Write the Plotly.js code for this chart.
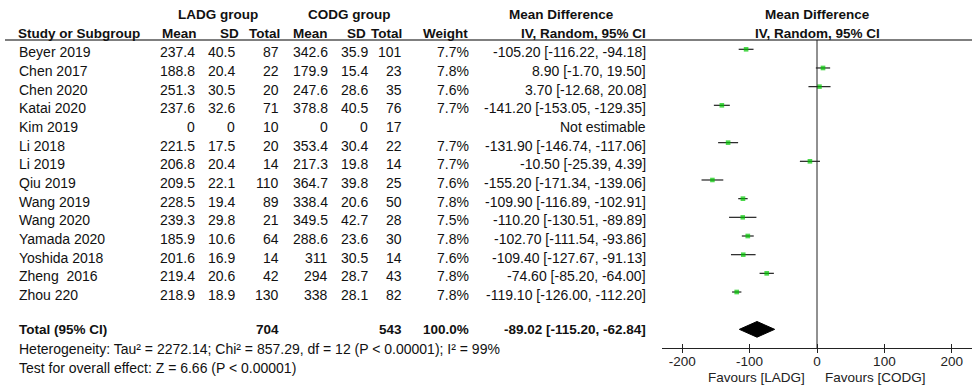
<!DOCTYPE html>
<html>
<head>
<meta charset="utf-8">
<script src="https://cdn.plot.ly/plotly-3.0.1.min.js"></script>
<style>html,body{margin:0;padding:0;background:#fff;}#chart{width:972px;height:387px;}</style>
</head>
<body>
<div id="chart"></div>
<script>
// ---------- data ----------
var studies   = ["Beyer 2019","Chen 2017","Chen 2020","Katai 2020","Kim 2019","Li 2018","Li 2019","Qiu 2019","Wang 2019","Wang 2020","Yamada 2020","Yoshida 2018","Zheng  2016","Zhou 220"];
var ladgMean  = [237.4,188.8,251.3,237.6,0,221.5,206.8,209.5,228.5,239.3,185.9,201.6,219.4,218.9];
var ladgSD    = [40.5,20.4,30.5,32.6,0,17.5,20.4,22.1,19.4,29.8,10.6,16.9,20.6,18.9];
var ladgN     = [87,22,20,71,10,20,14,110,89,21,64,14,42,130];
var codgMean  = [342.6,179.9,247.6,378.8,0,353.4,217.3,364.7,338.4,349.5,288.6,311,294,338];
var codgSD    = [35.9,15.4,28.6,40.5,0,30.4,19.8,39.8,20.6,42.7,23.6,30.5,28.7,28.1];
var codgN     = [101,23,35,76,17,22,14,25,50,28,30,14,43,82];
var weight    = [7.7,7.8,7.6,7.7,null,7.7,7.7,7.6,7.8,7.5,7.8,7.6,7.8,7.8];
var md        = [-105.20,8.90,3.70,-141.20,null,-131.90,-10.50,-155.20,-109.90,-110.20,-102.70,-109.40,-74.60,-119.10];
var ciLow     = [-116.22,-1.70,-12.68,-153.05,null,-146.74,-25.39,-171.34,-116.89,-130.51,-111.54,-127.67,-85.20,-126.00];
var ciHigh    = [-94.18,19.50,20.08,-129.35,null,-117.06,4.39,-139.06,-102.91,-89.89,-93.86,-91.13,-64.00,-112.20];
var totalLADG = 704, totalCODG = 543, totalWeight = 100.0;
var totalMD = -89.02, totalLow = -115.20, totalHigh = -62.84;
var heterogeneityText = "Heterogeneity: Tau² = 2272.14; Chi² = 857.29, df = 12 (P &lt; 0.00001); I² = 99%";
var overallText = "Test for overall effect: Z = 6.66 (P &lt; 0.00001)";
var tickVals = [-200,-100,0,100,200];
var tickText = ["-200","-100","0","100","200"];
var favoursLeft = "Favours [LADG]", favoursRight = "Favours [CODG]";

// ---------- layout helpers ----------
var W = 972, H = 387;
var FONT = "Liberation Sans, Arial, sans-serif";
var FS = 14, FSB = 13.5, TXT = "#111";
function px(x){ return x / W; }
function py(y){ return 1 - y / H; }
var rows = studies.map(function(_, i){ return i; });
var totalRow = studies.length + 1;

var ann = [];
function txtRow(text, x, anchor, row, bold, shift){
  ann.push({text: bold ? "<b>" + text + "</b>" : text, xref: "paper", yref: "y", x: px(x), y: row,
    xanchor: anchor, yanchor: "middle", yshift: shift, showarrow: false,
    font: {family: FONT, size: bold ? FSB : FS, color: TXT}});
}
function txtPx(text, x, anchor, y, bold){
  ann.push({text: bold ? "<b>" + text + "</b>" : text, xref: "paper", yref: "paper", x: px(x), y: py(y),
    xanchor: anchor, yanchor: "middle", showarrow: false,
    font: {family: FONT, size: bold ? FSB : FS, color: TXT}});
}

// headers
txtPx("LADG group", 218, "center", 15, true);
txtPx("CODG group", 349, "center", 15, true);
txtPx("Mean Difference", 561, "center", 15, true);
txtPx("Mean Difference", 817, "center", 15, true);
txtPx("Study or Subgroup", 16, "left", 33, true);
txtPx("Mean", 199, "right", 33, true);
txtPx("SD", 241, "right", 33, true);
txtPx("Total", 282, "right", 33, true);
txtPx("Mean", 330, "right", 33, true);
txtPx("SD", 368, "right", 33, true);
txtPx("Total", 404, "right", 33, true);
txtPx("Weight", 470, "right", 33, true);
txtPx("IV, Random, 95% CI", 648, "right", 33, true);
txtPx("IV, Random, 95% CI", 817, "center", 33, true);

// study rows
var SH = -3;
rows.forEach(function(r, i){
  txtRow(studies[i], 16.5, "left", r, false, SH);
  txtRow(String(ladgMean[i]), 197, "right", r, false, SH);
  txtRow(String(ladgSD[i]), 237, "right", r, false, SH);
  txtRow(String(ladgN[i]), 281, "right", r, false, SH);
  txtRow(String(codgMean[i]), 330, "right", r, false, SH);
  txtRow(String(codgSD[i]), 370, "right", r, false, SH);
  txtRow(String(codgN[i]), 404, "right", r, false, SH);
  if (weight[i] !== null) txtRow(weight[i].toFixed(1) + "%", 471, "right", r, false, SH);
  var s = md[i] === null ? "Not estimable" :
    md[i].toFixed(2) + " [" + ciLow[i].toFixed(2) + ", " + ciHigh[i].toFixed(2) + "]";
  txtRow(s, 648, "right", r, false, SH);
});
// total row
txtRow("Total (95% CI)", 16.5, "left", totalRow, true, -0.5);
txtRow(String(totalLADG), 281, "right", totalRow, true, -0.5);
txtRow(String(totalCODG), 404, "right", totalRow, true, -0.5);
txtRow(totalWeight.toFixed(1) + "%", 471, "right", totalRow, true, -0.5);
txtRow(totalMD.toFixed(2) + " [" + totalLow.toFixed(2) + ", " + totalHigh.toFixed(2) + "]", 648, "right", totalRow, true, -0.5);
// footers
txtPx(heterogeneityText, 16.5, "left", 349, false);
txtPx(overallText, 16.5, "left", 368, false);
// favours labels
ann.push({text: favoursLeft, xref: "x", yref: "paper", x: 0, xshift: -10, y: py(377.5), xanchor: "right", yanchor: "middle", showarrow: false, font: {family: FONT, size: 13.5, color: "#222"}});
ann.push({text: favoursRight, xref: "x", yref: "paper", x: 0, xshift: 6, y: py(377.5), xanchor: "left", yanchor: "middle", showarrow: false, font: {family: FONT, size: 13.5, color: "#222"}});

// ---------- traces ----------
var ciX = [], ciY = [];
rows.forEach(function(r, i){
  if (md[i] === null) return;
  ciX.push(ciLow[i], ciHigh[i], null);
  ciY.push(r, r, null);
});
var ciTrace = {type: "scatter", mode: "lines", x: ciX, y: ciY, xaxis: "x", yaxis: "y",
  line: {color: "#222", width: 1.2}, hoverinfo: "skip"};
var ptTrace = {type: "scatter", mode: "markers", x: md, y: rows, xaxis: "x", yaxis: "y",
  marker: {symbol: "square", size: weight.map(function(w){ return w === null ? 0 : w * 0.6; }), color: "#00c800", line: {width: 0}}};
var DH = 0.42;
var diamond = {type: "scatter", mode: "lines", fill: "toself", xaxis: "x2", yaxis: "y",
  x: [totalLow, totalMD, totalHigh, totalMD, totalLow],
  y: [totalRow, totalRow - DH, totalRow, totalRow + DH, totalRow],
  fillcolor: "#000", line: {color: "#000", width: 1}, hoverinfo: "skip"};

var axisPos = py(348.3);
var layout = {
  width: W, height: H, margin: {l: 0, r: 0, t: 0, b: 0},
  paper_bgcolor: "#fff", plot_bgcolor: "rgba(0,0,0,0)", showlegend: false,
  xaxis: {domain: [px(662), 1], range: [-230, 230], anchor: "free", position: axisPos,
    showline: true, linecolor: "#222", linewidth: 1, ticks: "inside", ticklen: 4, tickwidth: 1, tickcolor: "#222",
    tickvals: tickVals, ticktext: tickText, tickfont: {family: FONT, size: 13.5, color: "#222"},
    showgrid: false, zeroline: false, fixedrange: true},
  xaxis2: {overlaying: "x", matches: "x", anchor: "free", position: axisPos, range: [-230, 230],
    ticks: "outside", ticklen: 4, tickwidth: 1, tickcolor: "#222", tickvals: tickVals,
    showticklabels: false, showline: false, showgrid: false, zeroline: false},
  yaxis: {domain: [0, 1], range: [(H - 49.3) / 18.67, -49.3 / 18.67], visible: false,
    showgrid: false, zeroline: false, fixedrange: true},
  shapes: [
    {type: "line", xref: "paper", yref: "paper", x0: px(5), x1: 1, y0: py(40), y1: py(40), line: {color: "#555", width: 1.5}},
    {type: "line", xref: "x", yref: "paper", x0: 0, x1: 0, y0: axisPos, y1: py(40), line: {color: "#222", width: 1}}
  ],
  annotations: ann
};
Plotly.newPlot("chart", [ciTrace, ptTrace, diamond], layout, {staticPlot: true, displayModeBar: false});
</script>
</body>
</html>
